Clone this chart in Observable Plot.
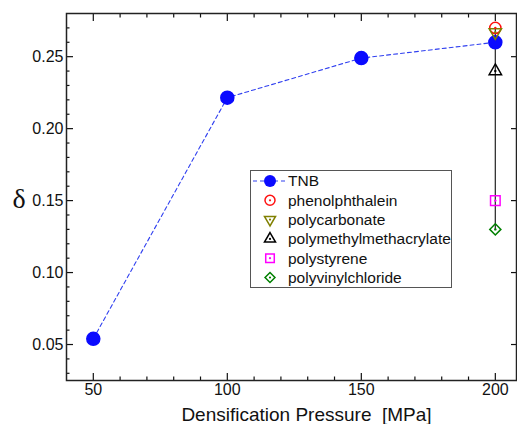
<!DOCTYPE html>
<html>
<head>
<meta charset="utf-8">
<script src="https://cdn.jsdelivr.net/npm/d3@7"></script>
<script src="https://cdn.jsdelivr.net/npm/@observablehq/plot@0.6"></script>
<style>
  html, body { margin: 0; padding: 0; background: #fff; overflow: hidden; }
  #wrap { position: relative; width: 517px; height: 424px; font-family: "Liberation Sans", Arial, sans-serif; }
  #wrap > svg { display: block; }
  #legend { position: absolute; left: 250px; top: 170px; }
</style>
</head>
<body>
<div id="wrap"></div>
<script>
// Data
const pressures = [50, 100, 150, 200];
const tnb = [0.054, 0.2215, 0.249, 0.260];
const polymers = ["phenolphthalein", "polycarbonate", "polymethylmethacrylate", "polystyrene", "polyvinylchloride"];
const polymerPressure = [200, 200, 200, 200, 200];
const polymerDelta = [0.270, 0.267, 0.240, 0.150, 0.130];
const polymerColors = ["#ff1010", "#808000", "#000000", "#ff00ff", "#008000"];
const polymerSymbols = ["circle", "triangle", "triangle", "square", "diamond2"];
const polymerRotate = [0, 180, 0, 0, 0];
const polymerR = [5.6, 4.6, 4.6, 5.4, 5.0];
const xMajor = [50, 100, 150, 200];
const xMinor = [60, 70, 80, 90, 110, 120, 130, 140, 160, 170, 180, 190];
const yMajor = [0.05, 0.10, 0.15, 0.20, 0.25];
const yMinor = [0.03, 0.04, 0.06, 0.07, 0.08, 0.09, 0.11, 0.12, 0.13, 0.14, 0.16, 0.17, 0.18, 0.19, 0.21, 0.22, 0.23, 0.24, 0.26, 0.27];

const tnbData = pressures.map((p, i) => ({p, d: tnb[i]}));
const polyData = polymers.map((name, i) => ({
  name, p: polymerPressure[i], d: polymerDelta[i], color: polymerColors[i],
  symbol: polymerSymbols[i], rotate: polymerRotate[i], r: polymerR[i]
}));
const span = [{p: 200, d1: d3.min(polymerDelta), d2: d3.max(polymerDelta)}];

const BLUE = "#0a0aff";

const chart = Plot.plot({
  width: 517,
  height: 424,
  marginLeft: 66,
  marginRight: 1,
  marginTop: 13,
  marginBottom: 44,
  style: {fontFamily: "Liberation Sans, Arial, sans-serif", fontSize: "16px", color: "#111", background: "#fff"},
  x: {domain: [40, 207.9]},
  y: {domain: [0.025, 0.28]},
  r: {type: "identity"},
  symbol: {type: "identity"},
  color: {type: "identity"},
  marks: [
    Plot.axisX(xMinor, {anchor: "bottom", tickSize: -3.5, text: null, label: null, strokeWidth: 1.2}),
    Plot.axisX(xMajor, {anchor: "bottom", tickSize: -7, tickPadding: 10, label: null, strokeWidth: 1.2, fontSize: 16}),
    Plot.axisX(xMinor, {anchor: "top", tickSize: -3.5, text: null, label: null, strokeWidth: 1.2}),
    Plot.axisX(xMajor, {anchor: "top", tickSize: -7, text: null, label: null, strokeWidth: 1.2}),
    Plot.axisY(yMinor, {anchor: "left", tickSize: -3.5, text: null, label: null, strokeWidth: 1.2}),
    Plot.axisY(yMajor, {anchor: "left", tickSize: -7, tickPadding: 10, tickFormat: d3.format(".2f"), label: null, strokeWidth: 1.2, fontSize: 16}),
    Plot.axisY(yMajor, {anchor: "right", tickSize: -6, text: null, label: null, strokeWidth: 1.2}),
    Plot.frame({stroke: "#222", strokeWidth: 1.5}),
    Plot.text(["Densification Pressure  [MPa]"], {frameAnchor: "bottom", dx: 15, dy: 40, lineAnchor: "bottom", fontSize: 19, fill: "#111"}),
    Plot.text(["δ"], {frameAnchor: "left", dx: -54, dy: 2, fontSize: 28, fontFamily: "Liberation Serif, DejaVu Serif, serif", fill: "#111"}),
    Plot.ruleX(span, {x: "p", y1: "d1", y2: "d2", stroke: "#333", strokeWidth: 1.3}),
    Plot.line(tnbData, {x: "p", y: "d", stroke: "#3040f0", strokeWidth: 1.1, strokeDasharray: "4,3"}),
    Plot.dot(tnbData, {x: "p", y: "d", r: 6.5, fill: BLUE, stroke: BLUE}),
    Plot.dot(polyData, {x: "p", y: "d", symbol: "symbol", r: "r", rotate: "rotate", stroke: "color", fill: "none", strokeWidth: 1.5}),
    Plot.dot(polyData, {x: "p", y: "d", r: 1.2, fill: "color", stroke: null})
  ]
});
document.getElementById("wrap").appendChild(chart);

// Legend (inside the plot frame, as in the reference)
const legendRows = [{name: "TNB", color: BLUE, symbol: "tnb"}].concat(polyData.map(d => ({name: d.name, color: d.color, symbol: d.symbol, rotate: d.rotate, r: d.r})));
const lw = 202, lh = 118;
const leg = d3.select("#wrap").append("div").attr("id", "legend")
  .append("svg").attr("width", lw).attr("height", lh)
  .style("font-family", "Liberation Sans, Arial, sans-serif");
leg.append("rect").attr("x", 0.5).attr("y", 0.5).attr("width", lw - 1).attr("height", lh - 1)
  .attr("fill", "white").attr("stroke", "#555").attr("stroke-width", 1);
const symMap = {circle: d3.symbolCircle, triangle: d3.symbolTriangle, square: d3.symbolSquare, diamond2: d3.symbolDiamond2};
legendRows.forEach((row, i) => {
  const cy = 11 + i * 19.3;
  const g = leg.append("g");
  if (row.symbol === "tnb") {
    g.append("line").attr("x1", 3).attr("x2", 36).attr("y1", cy).attr("y2", cy)
      .attr("stroke", "#3040f0").attr("stroke-width", 1.1).attr("stroke-dasharray", "4,3");
    g.append("circle").attr("cx", 20).attr("cy", cy).attr("r", 6).attr("fill", BLUE);
  } else {
    const sz = Math.PI * row.r * row.r * 0.8;
    g.append("path").attr("d", d3.symbol(symMap[row.symbol], sz)())
      .attr("transform", `translate(20,${cy}) rotate(${row.rotate})`)
      .attr("fill", "white").attr("stroke", row.color).attr("stroke-width", 1.5);
    g.append("circle").attr("cx", 20).attr("cy", cy).attr("r", 1.1).attr("fill", row.color);
  }
  g.append("text").attr("x", 38).attr("y", cy).attr("dy", "0.35em")
    .attr("font-size", 15.5).attr("fill", "#111").text(row.name);
});
</script>
</body>
</html>
